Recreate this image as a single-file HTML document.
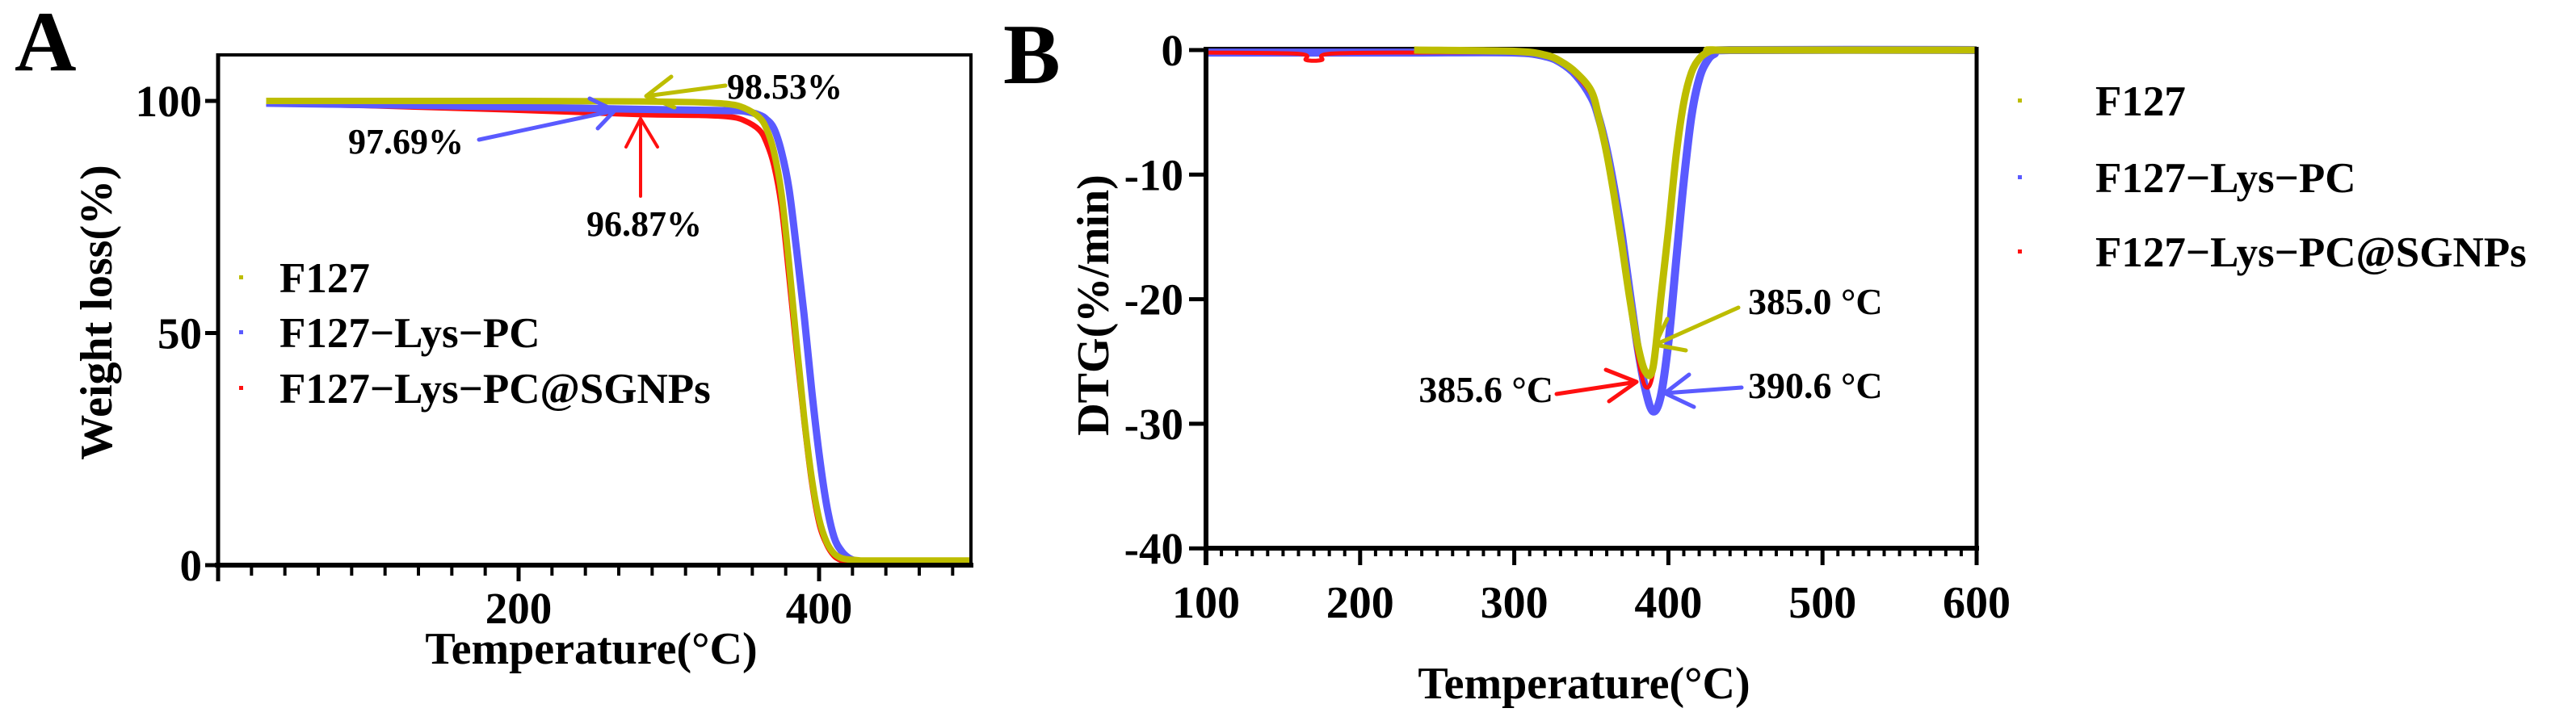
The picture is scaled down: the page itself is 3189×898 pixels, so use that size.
<!DOCTYPE html>
<html><head><meta charset="utf-8"><style>
html,body{margin:0;padding:0;background:#fff;}
svg{display:block;font-family:"Liberation Serif",serif;font-weight:bold;}
</style></head><body>
<svg id="fig" width="3189" height="898" viewBox="0 0 3189 898" xmlns="http://www.w3.org/2000/svg">
<g id="pa"></g>
<g id="pb"></g>
</svg>
<script>
// ---- Panel A data (TGA) ----
const aTemps = [32,100,200,280,320,340,350,360,365,370,375,380,385,390,395,400,405,410,415,420,425,430,450,500];
const aF127  = [100,100,100,99.9,99.7,99.3,98.5,96.5,94,89,80,65,48,32,19,10,5,2.5,1.5,1.2,1.1,1.0,1.0,1.0];
const aLys   = [99.5,99.2,98.7,98.2,98,97.9,97.8,97,96,94,89,81,68,54,38,24,13,6,3,1.5,0.9,0.7,0.6,0.6];
const aSGNP  = [99.5,99,98,97.1,96.9,96.6,95.8,93.8,91,86,77,62,46,31,18,9,4.5,2,1,0.5,0.3,0.2,0.2,0.2];
const aYTicks = [0,50,100];
const aXTicks = [200,400];
// ---- Panel B data (DTG) ----
const bTemps = [100,160,165,175,180,235,300,320,330,340,350,355,360,365,370,375,380,385,390,395,400,405,410,415,420,425,430,440,600];
const bF127  = [null,null,null,null,null,0,-0.1,-0.4,-0.9,-1.8,-3.3,-5.5,-8.3,-11.8,-15.8,-20,-23.6,-25.8,-25.5,-20,-14.5,-8.5,-4.2,-1.8,-0.7,-0.2,0,0,0];
const bLys   = [-0.2,-0.2,-0.2,-0.2,-0.2,-0.2,-0.2,-0.5,-1,-2,-3.8,-5.5,-8,-11.2,-15,-19.5,-23.8,-27.2,-29,-27.8,-23.5,-17,-10.5,-5.3,-2.3,-0.9,-0.3,0,0];
const bSGNP  = [-0.2,-0.3,-0.8,-0.8,-0.3,-0.2,-0.2,-0.5,-1,-2,-3.6,-5.6,-8.4,-12,-16,-20.4,-24.5,-27,-26,-20.5,-14.8,-8.8,-4.4,-1.9,-0.7,-0.2,0,0,0];
const bYTicks = [0,-10,-20,-30,-40];
const bXTicks = [100,200,300,400,500,600];

const NS="http://www.w3.org/2000/svg";
function mk(parent,tag,attrs,text){const e=document.createElementNS(NS,tag);for(const k in attrs)e.setAttribute(k,attrs[k]);if(text!==undefined)e.textContent=text;parent.appendChild(e);return e;}
const YEL="#bdbd00",BLU="#5a5aff",RED="#ff1010";

function linePath(xs,ys,fx,fy){
  let segs=[],cur=[];
  xs.forEach((t,i)=>{if(ys[i]===null){if(cur.length)segs.push(cur);cur=[];return;}cur.push([fx(t),fy(ys[i])]);});
  if(cur.length)segs.push(cur);
  let d="";
  segs.forEach(pts=>{
    d+="M"+pts[0][0].toFixed(1)+","+pts[0][1].toFixed(1);
    for(let i=0;i<pts.length-1;i++){
      const p0=pts[Math.max(0,i-1)],p1=pts[i],p2=pts[i+1],p3=pts[Math.min(pts.length-1,i+2)];
      const c1=[p1[0]+(p2[0]-p0[0])/6,p1[1]+(p2[1]-p0[1])/6];
      const c2=[p2[0]-(p3[0]-p1[0])/6,p2[1]-(p3[1]-p1[1])/6];
      d+="C"+c1[0].toFixed(1)+","+c1[1].toFixed(1)+" "+c2[0].toFixed(1)+","+c2[1].toFixed(1)+" "+p2[0].toFixed(1)+","+p2[1].toFixed(1);
    }
  });
  return d;
}

// Panel A scales
const ax=t=>270+(t-0)*1.86, ay=v=>700-v*5.75;
const A=document.getElementById('pa');

let p=mk(A,'path',{d:linePath(aTemps,aSGNP,ax,ay),fill:'none',stroke:RED,'stroke-width':7,'stroke-linejoin':'round'});

p=mk(A,'path',{d:linePath(aTemps,aLys,ax,ay),fill:'none',stroke:BLU,'stroke-width':9,'stroke-linejoin':'round'});

p=mk(A,'path',{d:linePath(aTemps,aF127,ax,ay),fill:'none',stroke:YEL,'stroke-width':8,'stroke-linejoin':'round'});


let fr=mk(A,'path',{d:'M270,68 L1202,68 L1202,700',fill:'none',stroke:'#000','stroke-width':4});

let xa=mk(A,'line',{x1:266,y1:700,x2:1205,y2:700,stroke:'#000','stroke-width':6});

let ya=mk(A,'line',{x1:270,y1:66,x2:270,y2:720,stroke:'#000','stroke-width':5});

for(let t=0;t<=500;t+=200/9){const major=aXTicks.some(m=>Math.abs(m-t)<0.5);mk(A,'line',{x1:ax(t),y1:700,x2:ax(t),y2:major?720:713,stroke:'#000','stroke-width':major?5:4});}
aXTicks.forEach(t=>{const e=mk(A,'text',{x:ax(t),y:772,'font-size':55,'text-anchor':'middle'},String(t));});
aYTicks.forEach(v=>{mk(A,'line',{x1:254,y1:ay(v),x2:270,y2:ay(v),stroke:'#000','stroke-width':5});const e=mk(A,'text',{x:250,y:ay(v)+19,'font-size':55,'text-anchor':'end'},String(v));});
let t=mk(A,'text',{x:732,y:822,'font-size':56,'text-anchor':'middle'},'Temperature(°C)');
t=mk(A,'text',{x:0,y:0,'font-size':56,'text-anchor':'middle',transform:'translate(138,387) rotate(-90)'},'Weight loss(%)');
t=mk(A,'text',{x:18,y:87,'font-size':106},'A');

const legA=mk(A,'g',{});
[['F127',YEL,344],['F127\u2212Lys\u2212PC',BLU,412],['F127\u2212Lys\u2212PC@SGNPs',RED,481]].forEach(([n,c,y])=>{mk(legA,'rect',{x:296,y:y-3,width:5,height:5,fill:c});const e=mk(legA,'text',{x:346,y:y+18,'font-size':53},n);});

function arrow(g,x1,y1,x2,y2,h1x,h1y,h2x,h2y,c,w){mk(g,'path',{d:`M${x1},${y1}L${x2},${y2}M${h1x},${h1y}L${x2},${y2}L${h2x},${h2y}`,fill:'none',stroke:c,'stroke-width':w,'stroke-linecap':'round','stroke-linejoin':'round'});}
let an=mk(A,'g',{});
arrow(an,898,106,800,119,831,95,835,133,YEL,5);mk(an,'text',{x:900,y:122,'font-size':44},'98.53%');
an=mk(A,'g',{});
arrow(an,593,173,761,137,730,122,740,159,BLU,5);mk(an,'text',{x:431,y:190,'font-size':44},'97.69%');
an=mk(A,'g',{});
arrow(an,793,243,793,147,775,182,814,182,RED,4);mk(an,'text',{x:726,y:292,'font-size':44},'96.87%');

// Panel B scales
const bx=t=>1493+(t-100)*1.908, by=v=>62-v*15.43;
const B=document.getElementById('pb');
let tb=mk(B,'line',{x1:1493,y1:62,x2:2447,y2:62,stroke:'#000','stroke-width':8});
p=mk(B,'path',{d:linePath(bTemps,bLys,bx,by),fill:'none',stroke:BLU,'stroke-width':10,'stroke-linejoin':'round'});

p=mk(B,'path',{d:linePath(bTemps,bSGNP,bx,by),fill:'none',stroke:RED,'stroke-width':5,'stroke-linejoin':'round'});

p=mk(B,'path',{d:linePath(bTemps,bF127,bx,by),fill:'none',stroke:YEL,'stroke-width':9,'stroke-linejoin':'round'});

fr=mk(B,'line',{x1:2447,y1:58,x2:2447,y2:680,stroke:'#000','stroke-width':5});
xa=mk(B,'line',{x1:1490,y1:679,x2:2450,y2:679,stroke:'#000','stroke-width':6});
ya=mk(B,'line',{x1:1493,y1:58,x2:1493,y2:700,stroke:'#000','stroke-width':6});
for(let tt=100;tt<=600;tt+=10){const major=tt%100===0;mk(B,'line',{x1:bx(tt),y1:679,x2:bx(tt),y2:major?700:689,stroke:'#000','stroke-width':major?5:4});}
bXTicks.forEach(v=>{const e=mk(B,'text',{x:bx(v),y:765,'font-size':56,'text-anchor':'middle'},String(v));});
bYTicks.forEach(v=>{mk(B,'line',{x1:1472,y1:by(v),x2:1493,y2:by(v),stroke:'#000','stroke-width':5});const e=mk(B,'text',{x:1465,y:by(v)+19,'font-size':55,'text-anchor':'end'},String(v));});
t=mk(B,'text',{x:1961,y:865,'font-size':56,'text-anchor':'middle'},'Temperature(°C)');
t=mk(B,'text',{x:0,y:0,'font-size':56,'text-anchor':'middle',transform:'translate(1372,378) rotate(-90)'},'DTG(%/min)');
t=mk(B,'text',{x:1242,y:103,'font-size':106},'B');

const legB=mk(B,'g',{});
[['F127',YEL,125],['F127\u2212Lys\u2212PC',BLU,220],['F127\u2212Lys\u2212PC@SGNPs',RED,312]].forEach(([n,c,y])=>{mk(legB,'rect',{x:2498,y:y-3,width:5,height:5,fill:c});const e=mk(legB,'text',{x:2594,y:y+18,'font-size':53},n);});

an=mk(B,'g',{});
arrow(an,2152,381,2049,427,2064,395,2087,434,YEL,5);mk(an,'text',{x:2164,y:389,'font-size':46},'385.0 °C');
an=mk(B,'g',{});
arrow(an,2156,480,2061,487,2091,464,2097,504,BLU,5);mk(an,'text',{x:2164,y:493,'font-size':46},'390.6 °C');
an=mk(B,'g',{});
arrow(an,1927,488,2026,473,1988,458,1992,497,RED,5);mk(an,'text',{x:1923,y:498,'font-size':46,'text-anchor':'end'},'385.6 °C');
</script>
</body></html>
